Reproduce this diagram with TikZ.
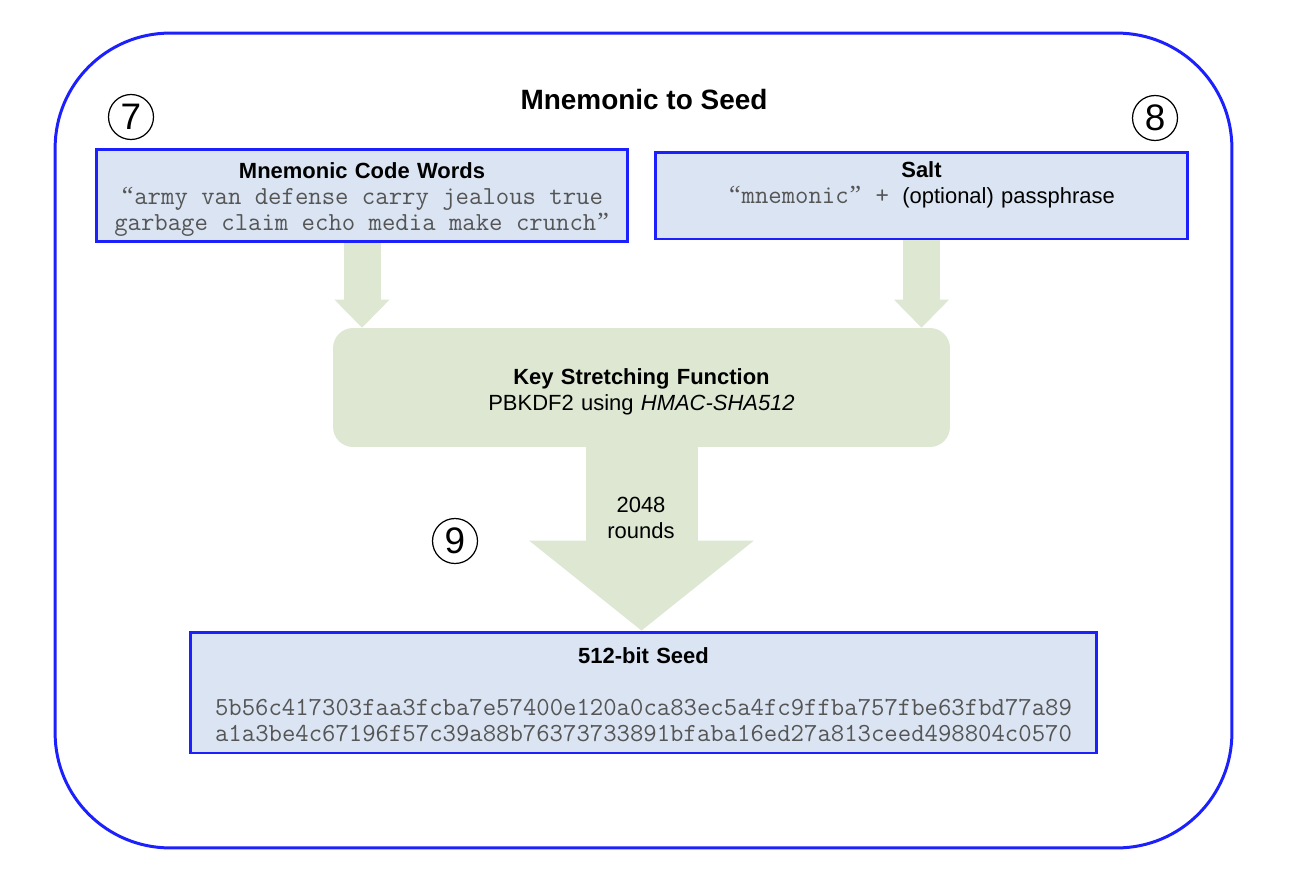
\documentclass[tikz,border=0pt]{standalone}
\usepackage{fontspec}
\setmainfont{Liberation Sans}
\newfontfamily\quotefont{Liberation Serif}
\usepackage{xcolor}
\usepackage{tikz}
\usetikzlibrary{
  arrows.meta,
  backgrounds
}
\definecolor{FrameBlue}{RGB}{28, 32, 252}
\definecolor{PaleBlue}{RGB}{218, 228, 242}
\definecolor{SageGreen}{RGB}{221, 231, 210}
\definecolor{CodeGray}{RGB}{85, 85, 85}
\newcommand{\codefont}{\fontsize{14.8}{14.7}\selectfont\ttfamily\spaceskip=\fontcharwd\font`a\relax\color{CodeGray}}
\newcommand{\openq}{\makebox[\fontcharwd\font`a]{\quotefont “}}
\newcommand{\closeq}{\makebox[\fontcharwd\font`a]{\quotefont ”}}
\tikzset{
    panel/.style={rectangle, draw=FrameBlue, line width=1.7pt, fill=PaleBlue, inner sep=0.1cm, align=center, font=\fontsize{12.5}{14.7}\selectfont},
    badge/.style={circle, draw, line width=0.7pt, minimum size=0.9cm, inner sep=0pt, font=\fontsize{21}{21}\selectfont},
    flow/.style={draw=SageGreen, line width=0.74cm, -{Triangle[width=1.1cm, length=0.56cm, line width=0pt, fill=SageGreen]}},
}

\begin{document}
\begin{tikzpicture}[x=0.02cm, y=-0.02cm]
    \useasboundingbox (0,0) rectangle (1300,882);
    \node[draw=FrameBlue, line width=1.7pt, rounded corners=2.3cm, minimum width=23.54cm, minimum height=16.3cm] (frame) at (643.5,440.5) {};
    \node[font=\fontsize{15.9}{18}\selectfont\bfseries] (title) at (644,100) {Mnemonic to Seed};

    \node[badge] (seven) at (131,117) {7};
    \node[badge] (eight) at (1155,118) {8};
    \node[badge] (nine) at (455,541) {9};

    \node[panel, text width=10.44cm, minimum height=1.74cm, text height=13.7pt] (words) at (362,195.5) {
        {\bfseries Mnemonic Code Words}\\
        {\codefont \openq army van defense carry jealous true}\\
        {\codefont garbage claim echo media make crunch\closeq}
    };
    \node[panel, text width=10.46cm, minimum height=1.74cm] (salt) at (921.5,195.5) {
        {\bfseries Salt}\\
        {\codefont \openq mnemonic\closeq{} + }(optional) passphrase\\
        \mbox{}
    };
    \node[rectangle, fill=SageGreen, rounded corners=0.4cm, inner sep=0.1cm, text width=12.14cm, minimum height=2.38cm, text height=13.7pt, align=center, font=\fontsize{12.5}{14.7}\selectfont] (ksf) at (641.5,387.5) {
        {\bfseries Key Stretching Function}\\
        PBKDF2 using \textit{HMAC-SHA512}
    };
    \node[font=\fontsize{12.5}{14.7}\selectfont, align=center] (rounds) at (641,518) {2048\\rounds};
    \node[panel, text width=17.94cm, minimum height=2.42cm, text height=11.4pt] (seed) at (643.5,692.5) {
        {\bfseries 512-bit Seed}\\[0.52cm]
        {\codefont 5b56c417303faa3fcba7e57400e120a0ca83ec5a4fc9ffba757fbe63fbd77a89}\\
        {\codefont a1a3be4c67196f57c39a88b76373733891bfaba16ed27a813ceed498804c0570}
    };

    \begin{scope}[on background layer]
        \draw[flow] (words.south) -- (words.south |- ksf.north);
        \draw[flow] (salt.south) -- (salt.south |- ksf.north);
        \draw[flow, line width=2.24cm, -{Triangle[width=4.5cm, length=1.8cm, line width=0pt, fill=SageGreen]}] (ksf.south) -- (ksf.south |- seed.north);
    \end{scope}
\end{tikzpicture}
\end{document}
